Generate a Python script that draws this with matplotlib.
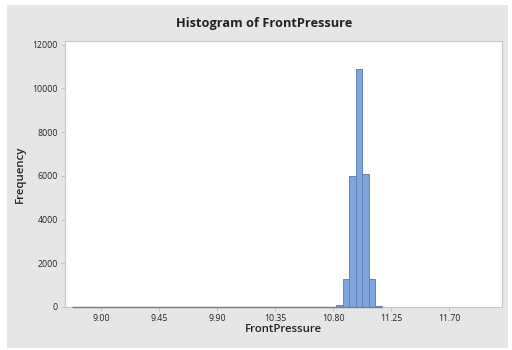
import numpy as np
import matplotlib
matplotlib.use("Agg")
import matplotlib.pyplot as plt
from matplotlib.patches import Rectangle

plt.rcParams['font.family'] = ['Open Sans', 'DejaVu Sans']

# Histogram data (bin width 0.05, first edge 8.775)
bin_start = 8.775
bin_width = 0.05
counts = [0, 0, 0, 0, 0, 0, 0, 0, 0, 0,
          0, 0, 0, 0, 0, 0, 0, 0, 0, 0,
          0, 0, 0, 0, 0, 0, 0, 0, 0, 0,
          0, 0, 0, 0, 0, 0, 0, 0, 0, 0,
          0,
          80, 1270, 5980, 10900, 6070, 1280, 50]
x_ticks = [9.00, 9.45, 9.90, 10.35, 10.80, 11.25, 11.70]
y_ticks = [0, 2000, 4000, 6000, 8000, 10000, 12000]

W, H = 512, 350
fig = plt.figure(figsize=(W / 100, H / 100), dpi=100)
fig.patch.set_facecolor('white')
# gray panel
fig.patches.append(Rectangle((7 / W, 1 - 348 / H), (508 - 7) / W, (348 - 5) / H,
                             transform=fig.transFigure, facecolor='#E6E6E6',
                             edgecolor='none', zorder=-10))

left, right, top, bottom = 65, 501.5, 41, 307
ax = fig.add_axes([left / W, 1 - bottom / H, (right - left) / W, (bottom - top) / H])
ax.set_zorder(5)
ax.set_facecolor('white')

edges = bin_start + bin_width * np.arange(len(counts) + 1)
centers = (edges[:-1] + edges[1:]) / 2
ax.bar(centers, counts, width=bin_width, color='#7DA6DD', edgecolor='#6284B5',
       linewidth=0.7, zorder=3)
# outlines of empty bins sit on the baseline
ax.hlines(0, edges[0], edges[-1], color='#6B7F99', linewidth=1.0, zorder=4,
          clip_on=False)

ax.set_xlim(8.72, 12.105)
ax.set_ylim(0, 12170)
ax.set_xticks(x_ticks)
ax.set_xticklabels([f"{v:.2f}" for v in x_ticks])
ax.set_yticks(y_ticks)
ax.set_yticklabels([str(v) for v in y_ticks])

for s in ax.spines.values():
    s.set_color('#C8C8C8')
    s.set_linewidth(0.8)

ax.tick_params(axis='both', labelsize=6.3, colors='#222222', length=3, width=0.6,
               pad=2, color='#BBBBBB')

fig.text(264 / W, 1 - 23 / H, 'Histogram of FrontPressure', ha='center', va='center',
         fontsize=9.2, fontweight='bold', color='#222222', zorder=6)
fig.text(283 / W, 1 - 330 / H, 'FrontPressure', ha='center', va='center',
         fontsize=8.2, fontweight='semibold', color='#222222', zorder=6)
fig.text(20 / W, 1 - 174 / H, 'Frequency', ha='center', va='center', rotation=90,
         fontsize=8.2, fontweight='semibold', color='#222222', zorder=6)

fig.savefig('out.png', dpi=100, facecolor=fig.get_facecolor())
